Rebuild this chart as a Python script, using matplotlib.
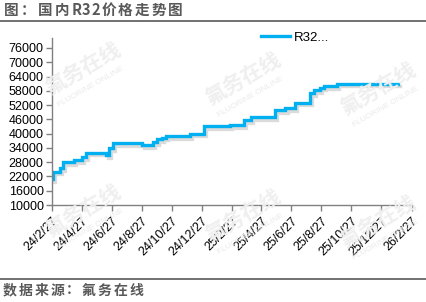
import matplotlib
matplotlib.use("Agg")
import matplotlib.pyplot as plt
import matplotlib.patheffects as pe
import numpy as np
from matplotlib.lines import Line2D

plt.rcParams['font.family'] = ['Liberation Sans', 'Noto Sans CJK SC', 'DejaVu Sans']

dates = ["2024-02-27", "2024-02-29", "2024-03-14", "2024-03-21", "2024-04-12",
         "2024-04-27", "2024-05-06", "2024-06-16", "2024-06-21", "2024-06-29",
         "2024-08-28", "2024-09-19", "2024-09-27", "2024-10-07", "2024-10-16",
         "2024-12-03", "2024-12-31", "2025-02-23", "2025-03-23", "2025-04-06",
         "2025-05-25", "2025-06-15", "2025-07-05", "2025-08-03", "2025-08-11",
         "2025-08-24", "2025-09-01", "2025-09-28", "2026-01-30"]
prices = [21000, 24000, 25500, 28000, 29000,
          30000, 32000, 31000, 34000, 36000,
          35300, 36300, 37700, 38300, 39000,
          40000, 43000, 43600, 45700, 47000,
          49800, 50800, 53000, 57000, 58300,
          59300, 60000, 61000, 61000]

tick_dates = ["2024-02-27", "2024-04-27", "2024-06-27", "2024-08-27", "2024-10-27",
              "2024-12-27", "2025-02-27", "2025-04-27", "2025-06-27", "2025-08-27",
              "2025-10-27", "2025-12-27", "2026-02-27"]
tick_labels = ["24/2/27", "24/4/27", "24/6/27", "24/8/27", "24/10/27", "24/12/27",
               "25/2/27", "25/4/27", "25/6/27", "25/8/27", "25/10/27", "25/12/27",
               "26/2/27"]
y_ticks = [10000, 16000, 22000, 28000, 34000, 40000, 46000, 52000, 58000, 64000, 70000, 76000]

series_name = "R32..."
title = "图：国内R32价格走势图"
source = "数据来源：氟务在线"

W, H = 426, 302
fig = plt.figure(figsize=(W / 100, H / 100), dpi=100)

def fx(px):
    return px / W

def fy(py):
    return 1 - py / H

cjk = ['Noto Sans CJK SC', 'DejaVu Sans']

def spaced_text(s, x0, yc, size, full_adv, half_adv):
    x = x0
    for ch in s:
        fig.text(fx(x), fy(yc), ch, fontsize=size, fontweight='bold', color='#595959',
                 family=cjk, va='center', ha='left')
        x += half_adv if ord(ch) < 128 else full_adv

# Header / footer
spaced_text(title, 4, 10, 10.5, 16.8, 10.0)
fig.add_artist(Line2D([0, 1], [fy(20.5), fy(20.5)], color='#666666', lw=1.3))
fig.add_artist(Line2D([0, 1], [fy(279), fy(279)], color='#666666', lw=1.3))
spaced_text(source, 3, 290.5, 10, 15.8, 9.0)

# Watermarks
wm_pos = [(83, 75), (243, 85), (378, 95), (83, 217), (243, 222), (378, 228)]
for (x, y) in wm_pos:
    fig.text(fx(x), fy(y - 6), "氟务在线", fontsize=15, fontweight='bold', color='#efefef',
             family=cjk, rotation=30, ha='center', va='center', zorder=0)
    fig.text(fx(x + 8), fy(y + 12), "FLUORINE ONLINE", fontsize=6, color='#eaeaea',
             rotation=30, ha='center', va='center', zorder=0)

ax = fig.add_axes([fx(52), fy(205), fx(412) - fx(52), fy(38) - fy(205)])
ax.patch.set_alpha(0)

x = np.array(dates, dtype='datetime64[D]')
y = np.array(prices)
ax.plot(x, y, drawstyle='steps-post', color='#00b0f0', lw=2.4,
        solid_joinstyle='miter', label=series_name,
        path_effects=[pe.SimpleLineShadow(offset=(1.5, -2.0), shadow_color='#999999', alpha=0.35),
                      pe.Normal()])

ax.set_xlim(np.datetime64("2024-02-27"), np.datetime64("2026-02-27"))
ax.set_ylim(10000, 80200)
ax.set_yticks(y_ticks)
ax.set_yticklabels([str(v) for v in y_ticks])
ax.set_xticks(np.array(tick_dates, dtype='datetime64[D]'))
ax.set_xticklabels(tick_labels, rotation=45, ha='right', rotation_mode='anchor')

for s in ['top', 'right']:
    ax.spines[s].set_visible(False)
for s in ['left', 'bottom']:
    ax.spines[s].set_color('#808080')
    ax.spines[s].set_linewidth(1.0)
ax.tick_params(axis='both', colors='#808080', labelcolor='black', length=4, width=1.0,
               labelsize=9)
ax.tick_params(axis='y', pad=2)
ax.tick_params(axis='x', pad=3)

ax.legend(handles=[Line2D([], [], color='#00b0f0', lw=2.4)], labels=[series_name],
          loc='center left', bbox_to_anchor=(fx(261), fy(38)), bbox_transform=fig.transFigure,
          frameon=False, fontsize=9.5, handlelength=2.2, handletextpad=0.3,
          borderpad=0, borderaxespad=0)

fig.savefig("out.png", dpi=100)
